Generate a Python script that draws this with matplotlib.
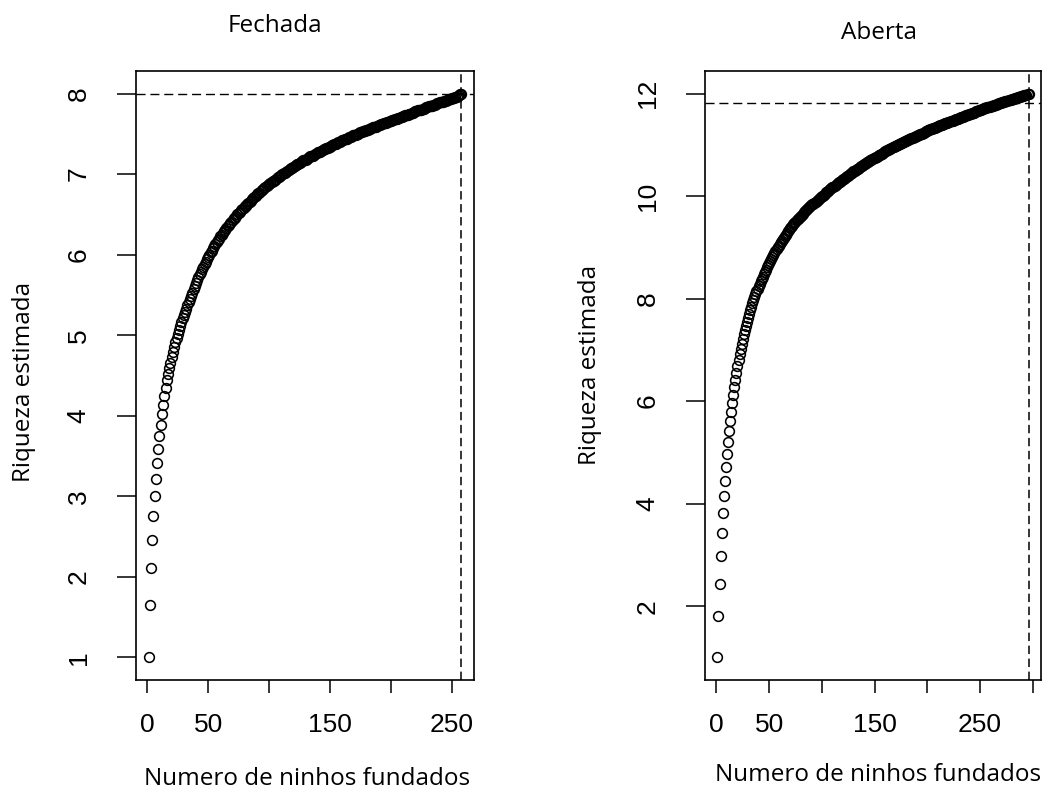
import numpy as np
import matplotlib
matplotlib.use("Agg")
import matplotlib.pyplot as plt

# Curvas de rarefacao (riqueza estimada x numero de ninhos fundados)
# Fechada: 258 ninhos
riqueza_fechada = [
    1.00, 1.65, 2.11, 2.46, 2.75, 3.00, 3.22, 3.41, 3.59, 3.75,
    3.89, 4.02, 4.14, 4.25, 4.35, 4.44, 4.52, 4.59, 4.66, 4.73,
    4.79, 4.85, 4.91, 4.96, 5.01, 5.06, 5.11, 5.16, 5.21, 5.25,
    5.29, 5.33, 5.37, 5.41, 5.45, 5.49, 5.53, 5.57, 5.61, 5.65,
    5.69, 5.72, 5.76, 5.79, 5.82, 5.85, 5.88, 5.91, 5.94, 5.97,
    6.00, 6.03, 6.05, 6.08, 6.11, 6.13, 6.16, 6.18, 6.20, 6.23,
    6.25, 6.27, 6.29, 6.31, 6.33, 6.35, 6.37, 6.39, 6.41, 6.43,
    6.45, 6.46, 6.48, 6.50, 6.52, 6.53, 6.55, 6.57, 6.58, 6.60,
    6.61, 6.63, 6.64, 6.66, 6.67, 6.69, 6.70, 6.72, 6.73, 6.75,
    6.76, 6.77, 6.79, 6.80, 6.81, 6.83, 6.84, 6.85, 6.86, 6.88,
    6.89, 6.90, 6.91, 6.92, 6.93, 6.94, 6.96, 6.97, 6.98, 6.99,
    7.00, 7.01, 7.02, 7.03, 7.04, 7.05, 7.06, 7.07, 7.08, 7.09,
    7.10, 7.11, 7.12, 7.13, 7.14, 7.15, 7.16, 7.17, 7.17, 7.18,
    7.19, 7.20, 7.21, 7.22, 7.23, 7.23, 7.24, 7.25, 7.26, 7.27,
    7.27, 7.28, 7.29, 7.30, 7.31, 7.31, 7.32, 7.33, 7.34, 7.34,
    7.35, 7.36, 7.37, 7.37, 7.38, 7.39, 7.40, 7.40, 7.41, 7.42,
    7.42, 7.43, 7.44, 7.44, 7.45, 7.46, 7.46, 7.47, 7.48, 7.48,
    7.49, 7.50, 7.50, 7.51, 7.52, 7.52, 7.53, 7.53, 7.54, 7.55,
    7.55, 7.56, 7.56, 7.57, 7.58, 7.58, 7.59, 7.59, 7.60, 7.61,
    7.61, 7.62, 7.62, 7.63, 7.63, 7.64, 7.65, 7.65, 7.66, 7.66,
    7.67, 7.67, 7.68, 7.68, 7.69, 7.70, 7.70, 7.71, 7.71, 7.72,
    7.72, 7.73, 7.74, 7.74, 7.75, 7.75, 7.76, 7.76, 7.77, 7.78,
    7.78, 7.79, 7.79, 7.80, 7.80, 7.81, 7.81, 7.82, 7.83, 7.83,
    7.84, 7.84, 7.85, 7.85, 7.86, 7.86, 7.87, 7.88, 7.88, 7.89,
    7.89, 7.90, 7.90, 7.91, 7.91, 7.92, 7.92, 7.93, 7.93, 7.94,
    7.95, 7.95, 7.96, 7.96, 7.97, 7.98, 7.99, 8.00,
]

# Aberta: 296 ninhos
riqueza_aberta = [
    1.00, 1.80, 2.44, 2.97, 3.42, 3.81, 4.15, 4.45, 4.72, 4.97,
    5.20, 5.41, 5.61, 5.79, 5.96, 6.12, 6.27, 6.41, 6.55, 6.68,
    6.80, 6.92, 7.02, 7.12, 7.21, 7.30, 7.39, 7.47, 7.55, 7.63,
    7.70, 7.77, 7.84, 7.91, 7.97, 8.03, 8.09, 8.14, 8.19, 8.24,
    8.29, 8.34, 8.39, 8.43, 8.48, 8.52, 8.56, 8.61, 8.65, 8.69,
    8.73, 8.77, 8.81, 8.85, 8.89, 8.93, 8.96, 9.00, 9.03, 9.06,
    9.10, 9.13, 9.16, 9.19, 9.22, 9.25, 9.28, 9.31, 9.34, 9.37,
    9.40, 9.42, 9.45, 9.48, 9.50, 9.53, 9.55, 9.57, 9.60, 9.62,
    9.64, 9.66, 9.68, 9.70, 9.72, 9.74, 9.76, 9.78, 9.80, 9.82,
    9.84, 9.85, 9.87, 9.89, 9.91, 9.93, 9.94, 9.96, 9.98, 10.00,
    10.01, 10.03, 10.05, 10.07, 10.08, 10.10, 10.12, 10.13, 10.15, 10.17,
    10.18, 10.20, 10.22, 10.23, 10.25, 10.27, 10.28, 10.30, 10.31, 10.33,
    10.34, 10.36, 10.37, 10.39, 10.40, 10.42, 10.43, 10.45, 10.46, 10.48,
    10.49, 10.51, 10.52, 10.53, 10.55, 10.56, 10.58, 10.59, 10.60, 10.62,
    10.63, 10.65, 10.66, 10.67, 10.69, 10.70, 10.71, 10.72, 10.74, 10.75,
    10.76, 10.77, 10.78, 10.80, 10.81, 10.82, 10.83, 10.84, 10.86, 10.87,
    10.88, 10.89, 10.90, 10.91, 10.92, 10.94, 10.95, 10.96, 10.97, 10.98,
    10.99, 11.00, 11.01, 11.02, 11.03, 11.04, 11.05, 11.06, 11.07, 11.08,
    11.09, 11.10, 11.11, 11.12, 11.13, 11.14, 11.15, 11.16, 11.17, 11.18,
    11.19, 11.20, 11.21, 11.21, 11.22, 11.23, 11.24, 11.25, 11.26, 11.27,
    11.28, 11.29, 11.30, 11.31, 11.32, 11.32, 11.33, 11.34, 11.35, 11.36,
    11.37, 11.38, 11.39, 11.39, 11.40, 11.41, 11.42, 11.43, 11.43, 11.44,
    11.45, 11.46, 11.47, 11.47, 11.48, 11.49, 11.50, 11.51, 11.51, 11.52,
    11.53, 11.54, 11.55, 11.55, 11.56, 11.57, 11.58, 11.58, 11.59, 11.60,
    11.61, 11.62, 11.62, 11.63, 11.64, 11.65, 11.65, 11.66, 11.67, 11.68,
    11.68, 11.69, 11.70, 11.71, 11.71, 11.72, 11.73, 11.73, 11.74, 11.75,
    11.76, 11.76, 11.77, 11.78, 11.78, 11.79, 11.80, 11.81, 11.81, 11.82,
    11.83, 11.83, 11.84, 11.85, 11.85, 11.86, 11.87, 11.87, 11.88, 11.89,
    11.89, 11.90, 11.91, 11.91, 11.92, 11.93, 11.93, 11.94, 11.95, 11.95,
    11.96, 11.97, 11.98, 11.98, 11.99, 12.00,
]

titulos = ["Fechada", "Aberta"]
linha_h = [8.0, 11.82]  # riqueza de referencia (linha tracejada horizontal)
yticks_fechada = [1, 2, 3, 4, 5, 6, 7, 8]
yticks_aberta = [2, 4, 6, 8, 10, 12]
xticks = [0, 50, 100, 150, 200, 250, 300]
xticklabels = ["0", "50", "", "150", "", "250", ""]

W, H = 1047, 791
fig = plt.figure(figsize=(W / 100, H / 100), dpi=100)
fonte_num = "Liberation Sans"
fonte_txt = "Open Sans"

def painel(left_px, right_px, y, yticks, href, titulo, title_xy, xlab_xy, ylab_xy):
    ax = fig.add_axes([left_px / W, (H - 680) / H, (right_px - left_px) / W, (680 - 71) / H])
    x = np.arange(1, len(y) + 1)
    ax.plot(x, y, linestyle="none", marker="o", markersize=7.0,
            markerfacecolor="none", markeredgecolor="black", markeredgewidth=1.15)
    ax.axhline(href, color="black", linestyle=(0, (6.5, 3.5)), linewidth=1.0)
    ax.axvline(len(y), color="black", linestyle=(0, (5.5, 3)), linewidth=1.1)
    # limites no estilo R (4% de folga)
    n = len(y)
    ax.set_xlim(1 - 0.04 * (n - 1), n + 0.04 * (n - 1))
    ymin, ymax = min(y), max(y)
    ax.set_ylim(ymin - 0.04 * (ymax - ymin), ymax + 0.04 * (ymax - ymin))
    xt = [t for t in xticks if t <= n + 0.04 * (n - 1)]
    ax.set_xticks(xt)
    ax.set_xticklabels(xticklabels[:len(xt)], fontfamily=fonte_num, fontsize=19)
    ax.set_yticks(yticks)
    ax.set_yticklabels([str(t) for t in yticks], fontfamily=fonte_num, fontsize=19,
                       rotation=90, va="center")
    ax.tick_params(axis="x", length=9.5, width=1.1, pad=14)
    ax.tick_params(axis="y", length=13.5, width=1.1, pad=19)
    for s in ax.spines.values():
        s.set_linewidth(1.2)
    fig.text(title_xy[0] / W, 1 - title_xy[1] / H, titulo, ha="center", va="center",
             fontfamily=fonte_txt, fontsize=17.5)
    fig.text(xlab_xy[0] / W, 1 - xlab_xy[1] / H, "Numero de ninhos fundados",
             ha="center", va="center", fontfamily=fonte_txt, fontsize=17.5)
    fig.text(ylab_xy[0] / W, 1 - ylab_xy[1] / H, "Riqueza estimada", rotation=90,
             ha="center", va="center", fontfamily=fonte_txt, fontsize=17.5)
    return ax

painel(136, 474, riqueza_fechada, yticks_fechada, linha_h[0], titulos[0],
       (275, 26), (307, 779), (24, 382))
painel(705, 1041, riqueza_aberta, yticks_aberta, linha_h[1], titulos[1],
       (879, 33), (878, 775), (590, 365))

fig.savefig("out.png", dpi=100)
